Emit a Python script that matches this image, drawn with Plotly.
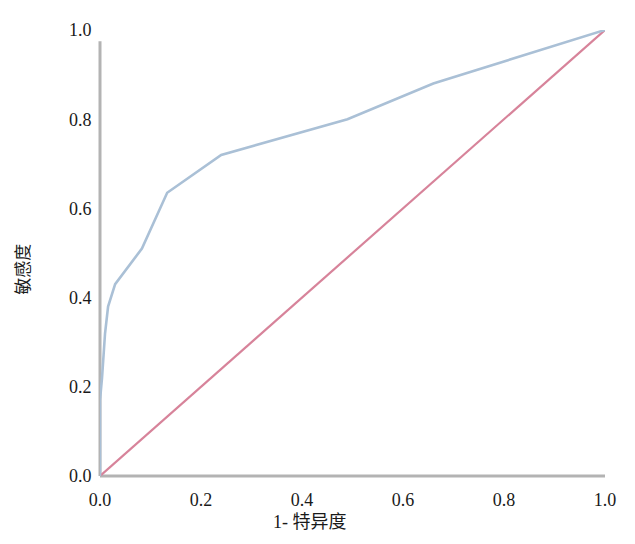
import plotly.graph_objects as go

# ROC curve data (1 - specificity, sensitivity)
fpr = [0.0, 0.0, 0.004, 0.01, 0.016, 0.03, 0.083, 0.133, 0.24, 0.49, 0.66, 1.0]
tpr = [0.0, 0.17, 0.22, 0.32, 0.38, 0.43, 0.51, 0.635, 0.72, 0.80, 0.88, 1.0]
ref_x = [0.0, 1.0]
ref_y = [0.0, 1.0]
tick_vals = [0.0, 0.2, 0.4, 0.6, 0.8, 1.0]
tick_text = ["0.0", "0.2", "0.4", "0.6", "0.8", "1.0"]
x_title = "1- 特异度"
y_title = "敏感度"

fig = go.Figure()
# axis lines (gray), drawn in paper space so they are not clipped
fig.add_shape(type="line", x0=0, x1=0, y0=0, y1=0.975, xref="paper", yref="paper",
              line=dict(color="#b3b3b3", width=3), layer="below")
fig.add_shape(type="line", x0=0, x1=1, y0=0, y1=0, xref="paper", yref="paper",
              line=dict(color="#b3b3b3", width=3), layer="below")

fig.add_trace(go.Scatter(x=ref_x, y=ref_y, mode="lines",
                         line=dict(color="#d7839a", width=2.2),
                         cliponaxis=False, showlegend=False, hoverinfo="skip"))
fig.add_trace(go.Scatter(x=fpr, y=tpr, mode="lines",
                         line=dict(color="#aac0d6", width=2.6),
                         cliponaxis=False, showlegend=False))

tick_font = dict(family="Liberation Serif, Times New Roman, serif", size=18, color="#1a1a1a")
title_font = dict(family="Liberation Serif, Noto Sans CJK SC", size=18, color="#1a1a1a")
# page body has an 8px margin, so offsets are compensated
L, T, PW, PH = 92, 18, 505, 450
fig.update_layout(
    width=635, height=544,
    margin=dict(l=L, r=635 - L - PW, t=T, b=544 - T - PH),
    paper_bgcolor="white", plot_bgcolor="white",
    xaxis=dict(range=[0, 1], tickvals=tick_vals, ticktext=tick_text,
               showgrid=False, zeroline=False, showline=False,
               tickfont=tick_font, ticks="outside", ticklen=7,
               tickcolor="rgba(0,0,0,0)"),
    yaxis=dict(range=[0, 1], tickvals=tick_vals, ticktext=tick_text,
               showgrid=False, zeroline=False, showline=False,
               tickfont=tick_font, ticks="outside", ticklen=4,
               tickcolor="rgba(0,0,0,0)"),
    annotations=[
        dict(text=x_title, xref="paper", yref="paper",
             x=(310 - 100) / PW, y=1 - (522 - 26) / PH,
             xanchor="center", yanchor="middle", showarrow=False,
             font=title_font),
        dict(text=y_title, xref="paper", yref="paper",
             x=(22 - 100) / PW, y=1 - (268 - 26) / PH,
             xanchor="center", yanchor="middle", showarrow=False,
             textangle=-90,
             font=dict(family="Noto Sans CJK SC", size=17, color="#1a1a1a")),
    ],
)
fig.write_html("out.html")
